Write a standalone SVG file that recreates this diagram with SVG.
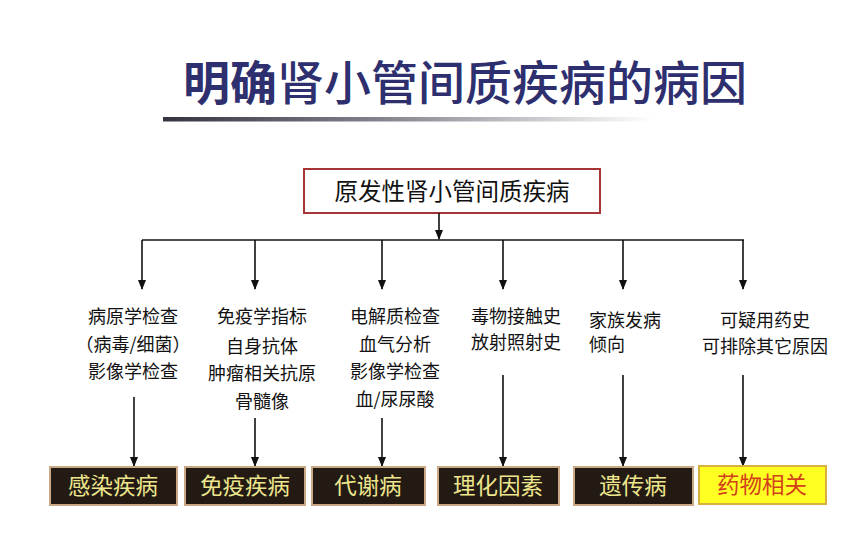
<svg xmlns="http://www.w3.org/2000/svg" width="850" height="546" viewBox="0 0 850 546">
<defs>
<linearGradient id="ul" x1="0" y1="0" x2="1" y2="0">
<stop offset="0" stop-color="#34343f"/>
<stop offset="0.45" stop-color="#85858f"/>
<stop offset="1" stop-color="#ffffff"/>
</linearGradient>
<marker id="ah" viewBox="0 0 10 10" refX="9" refY="5" markerWidth="10" markerHeight="10" markerUnits="userSpaceOnUse" orient="auto">
<path d="M0,1 L10,5 L0,9 z" fill="#111"/>
</marker>
<style>
.t{font-family:"Noto Sans CJK SC","Liberation Sans",sans-serif;}
.title{font-size:47px;fill:#2e2f6e;font-weight:500;}
.mid{font-size:18px;fill:#111;text-anchor:middle;}
.midl{font-size:18px;fill:#111;}
.ln{stroke:#111;stroke-width:1.6;fill:none;}
.dbox{fill:#231a14;stroke:#caa886;stroke-width:2;}
.dtxt{font-size:22.5px;fill:#eee68c;text-anchor:middle;}
</style>
</defs>
<rect width="850" height="546" fill="#ffffff"/>
<g id="title">
<text class="t title" x="183" y="100"><tspan font-weight="bold">明确</tspan>肾小管间质疾病的病因</text>
<rect x="163" y="117" width="490" height="4.5" fill="url(#ul)"/>
</g>
<g id="root">
<rect x="304" y="169" width="296" height="44" fill="#fff" stroke="#a83535" stroke-width="2"/>
<text class="t" x="452" y="200" font-size="23.5" text-anchor="middle" fill="#111">原发性肾小管间质疾病</text>
</g>
<g id="connectors">
<line class="ln" x1="439" y1="213" x2="439" y2="239" marker-end="url(#ah)"/>
<line class="ln" x1="142" y1="240" x2="744" y2="240"/>
<line class="ln" x1="142" y1="240" x2="142" y2="289" marker-end="url(#ah)"/>
<line class="ln" x1="255" y1="240" x2="255" y2="289" marker-end="url(#ah)"/>
<line class="ln" x1="382" y1="240" x2="382" y2="289" marker-end="url(#ah)"/>
<line class="ln" x1="503" y1="240" x2="503" y2="289" marker-end="url(#ah)"/>
<line class="ln" x1="623" y1="240" x2="623" y2="289" marker-end="url(#ah)"/>
<line class="ln" x1="743" y1="240" x2="743" y2="289" marker-end="url(#ah)"/>
<line class="ln" x1="134" y1="397" x2="134" y2="466" marker-end="url(#ah)"/>
<line class="ln" x1="255" y1="418" x2="255" y2="466" marker-end="url(#ah)"/>
<line class="ln" x1="382" y1="418" x2="382" y2="466" marker-end="url(#ah)"/>
<line class="ln" x1="503" y1="375" x2="503" y2="466" marker-end="url(#ah)"/>
<line class="ln" x1="623" y1="375" x2="623" y2="466" marker-end="url(#ah)"/>
<line class="ln" x1="743" y1="375" x2="743" y2="466" marker-end="url(#ah)"/>
</g>
<g id="info1">
<text class="t mid" x="133" y="323">病原学检查</text>
<text class="t mid" x="133" y="351">（病毒/细菌）</text>
<text class="t mid" x="133" y="378">影像学检查</text>
</g>
<g id="info2">
<text class="t mid" x="262" y="323">免疫学指标</text>
<text class="t mid" x="262" y="353">自身抗体</text>
<text class="t mid" x="262" y="380">肿瘤相关抗原</text>
<text class="t mid" x="262" y="408">骨髓像</text>
</g>
<g id="info3">
<text class="t mid" x="395" y="323">电解质检查</text>
<text class="t mid" x="395" y="351">血气分析</text>
<text class="t mid" x="395" y="378">影像学检查</text>
<text class="t mid" x="395" y="406">血/尿尿酸</text>
</g>
<g id="info4">
<text class="t mid" x="516" y="323">毒物接触史</text>
<text class="t mid" x="516" y="349">放射照射史</text>
</g>
<g id="info5">
<text class="t midl" x="589" y="327">家族发病</text>
<text class="t midl" x="589" y="351">倾向</text>
</g>
<g id="info6">
<text class="t mid" x="765" y="327">可疑用药史</text>
<text class="t mid" x="765" y="353">可排除其它原因</text>
</g>
<g id="n1"><rect class="dbox" x="50" y="467" width="127" height="38"/><text class="t dtxt" x="113" y="494">感染疾病</text></g>
<g id="n2"><rect class="dbox" x="185" y="467" width="120" height="38"/><text class="t dtxt" x="245" y="494">免疫疾病</text></g>
<g id="n3"><rect class="dbox" x="312" y="467" width="113" height="38"/><text class="t dtxt" x="368" y="494">代谢病</text></g>
<g id="n4"><rect class="dbox" x="438" y="467" width="121" height="38"/><text class="t dtxt" x="498" y="494">理化因素</text></g>
<g id="n5"><rect class="dbox" x="574" y="467" width="119" height="38"/><text class="t dtxt" x="633" y="494">遗传病</text></g>
<g id="n6"><rect x="699" y="466" width="127" height="38" fill="#ffff22" stroke="#d8b040" stroke-width="2"/><text class="t" x="762" y="493" font-size="22.5" fill="#d2401a" text-anchor="middle">药物相关</text></g>
</svg>
